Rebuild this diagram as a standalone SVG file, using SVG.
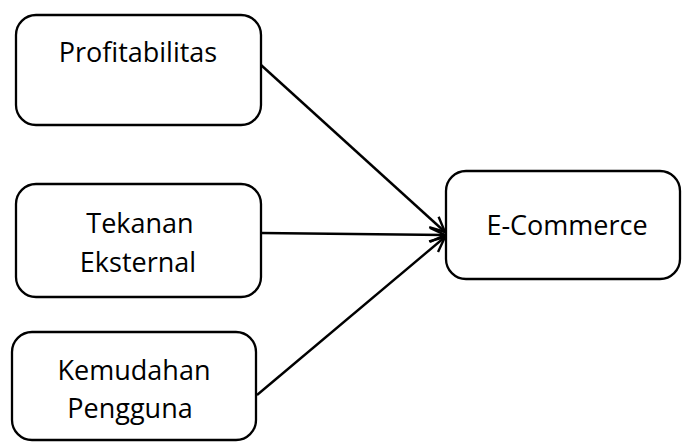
<svg xmlns="http://www.w3.org/2000/svg" width="682" height="443" viewBox="0 0 682 443">
<style>
.box{fill:#fff;stroke:#000;stroke-width:2.3}
.lbl{font-family:"Open Sans","Liberation Sans",sans-serif;font-size:27px;fill:#000;text-anchor:middle}
.conn{stroke:#000;stroke-width:2.4;fill:none;marker-end:url(#arr)}
</style>
<defs>
<marker id="arr" markerWidth="20" markerHeight="20" refX="16" refY="8" orient="auto" markerUnits="userSpaceOnUse">
<path d="M1,1 L16,8 L1,15" fill="none" stroke="#000" stroke-width="2.4"/>
</marker>
</defs>
<rect width="682" height="443" fill="#fff"/>
<g id="connectors">
<line class="conn" x1="261" y1="65" x2="445" y2="232"/>
<line class="conn" x1="261" y1="233" x2="445" y2="235"/>
<line class="conn" x1="257" y1="395" x2="445" y2="237"/>
</g>
<g id="profitabilitas">
<rect class="box" x="16" y="15" width="245" height="110" rx="20"/>
<text class="lbl" x="138" y="62">Profitabilitas</text>
</g>
<g id="tekanan">
<rect class="box" x="16" y="184" width="245" height="113" rx="20"/>
<text class="lbl" x="140" y="233">Tekanan</text>
<text class="lbl" x="138" y="272">Eksternal</text>
</g>
<g id="kemudahan">
<rect class="box" x="12" y="332" width="244" height="108" rx="20"/>
<text class="lbl" x="134" y="380">Kemudahan</text>
<text class="lbl" x="130" y="418">Pengguna</text>
</g>
<g id="ecommerce">
<rect class="box" x="446" y="171" width="234" height="108" rx="20"/>
<text class="lbl" x="567" y="235">E-Commerce</text>
</g>
</svg>
